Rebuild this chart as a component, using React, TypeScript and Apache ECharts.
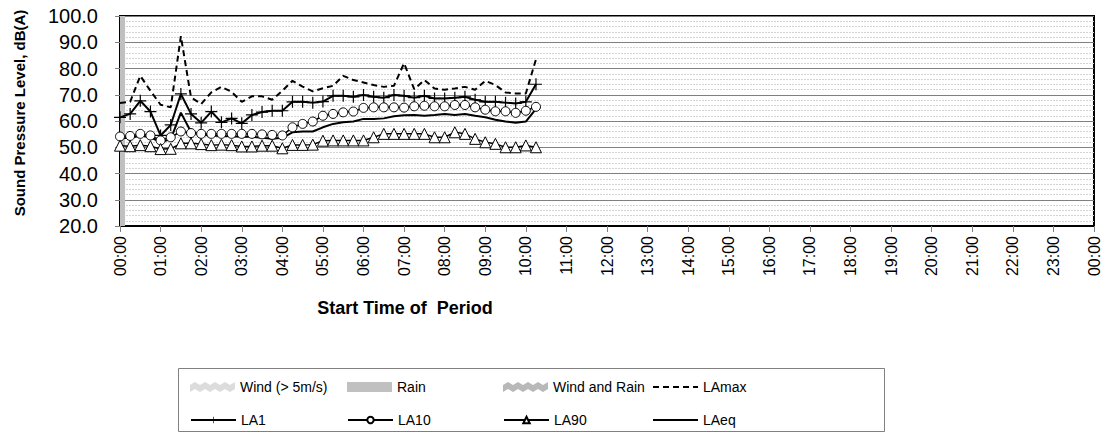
import React, { useEffect, useRef } from "react";
import * as echarts from "echarts";

// 15-minute periods across one day, 00:00 through the following 00:00
const periods: string[] = [];
for (let h = 0; h <= 24; h++) {
  for (let q = 0; q < 4; q++) {
    if (h === 24 && q > 0) break;
    const hh = String(h % 24).padStart(2, "0");
    const mm = String(q * 15).padStart(2, "0");
    periods.push(`${hh}:${mm}`);
  }
}

const laMax = [66.9, 67.3, 77.2, 71.5, 66.2, 65.2, 92.3, 69.0, 66.5, 70.9, 73.0, 71.1, 67.3, 69.4, 69.4, 68.1, 71.5, 75.3, 73.1, 71.3, 72.5, 73.4, 77.2, 75.6, 74.7, 73.7, 73.0, 73.4, 82.0, 72.1, 75.6, 72.4, 71.9, 72.4, 73.0, 71.9, 75.3, 73.7, 70.9, 70.5, 70.5, 83.5];
const la1 = [61.4, 62.7, 67.7, 63.6, 54.5, 58.5, 70.3, 62.7, 59.3, 63.6, 59.5, 61.0, 59.1, 62.3, 63.4, 63.9, 63.9, 67.3, 67.3, 67.0, 67.4, 69.6, 69.6, 69.2, 69.9, 69.2, 68.9, 69.9, 69.6, 68.9, 69.6, 68.6, 68.6, 68.9, 69.2, 68.1, 67.3, 67.3, 67.0, 66.7, 67.3, 74.0];
const la10 = [54.1, 54.3, 55.1, 54.5, 52.6, 53.8, 56.0, 55.4, 55.1, 55.1, 55.1, 55.1, 55.1, 55.1, 54.9, 54.7, 54.5, 57.6, 58.9, 59.8, 62.0, 62.7, 63.3, 63.6, 65.0, 65.2, 65.2, 65.2, 65.1, 65.6, 65.8, 65.6, 65.6, 66.1, 66.1, 65.2, 64.3, 63.7, 63.7, 63.1, 63.9, 65.4];
const la90 = [50.6, 50.4, 50.8, 50.4, 49.3, 49.4, 51.5, 51.5, 51.2, 50.8, 51.0, 50.8, 50.3, 50.3, 50.6, 50.6, 49.6, 50.9, 50.9, 51.0, 52.5, 52.6, 52.6, 52.6, 52.6, 53.8, 55.1, 55.1, 55.1, 55.1, 55.1, 53.8, 53.8, 55.7, 55.1, 53.2, 51.9, 51.3, 50.0, 50.0, 50.7, 50.0];
const laEq = [53.5, 53.5, 54.5, 53.8, 52.0, 53.0, 63.2, 55.8, 54.8, 54.5, 54.3, 54.2, 54.0, 54.0, 53.6, 53.2, 53.6, 55.7, 56.0, 56.0, 57.6, 58.9, 59.5, 59.8, 60.8, 60.8, 61.0, 61.8, 62.2, 62.3, 62.0, 62.3, 62.7, 62.3, 62.7, 62.0, 61.4, 60.5, 59.8, 59.3, 59.8, 64.6];

// weather flags: a band spans the full scale for each flagged period
const rain = [100];
const wind: number[] = [];
const windAndRain: number[] = [];

const FONT = "'Liberation Sans', Arial, sans-serif";
const ZIGZAG =
  "path://M0,3L5,0L10,3L15,0L20,3L25,0L30,3L35,0L40,3L45,0L45,7L40,10L35,7L30,10L25,7L20,10L15,7L10,10L5,7L0,10Z";
const PLUS =
  "path://M5.4,0h1.2v5.4h5.4v1.2h-5.4v5.4h-1.2v-5.4h-5.4v-1.2h5.4z";

function legendItem(left: number, top: number, itemHeight: number, item: any) {
  return {
    orient: "horizontal",
    left,
    top,
    itemWidth: 45,
    itemHeight,
    padding: 0,
    selectedMode: false,
    textStyle: { fontFamily: FONT, fontSize: 14, color: "#000", lineHeight: itemHeight },
    data: [item],
  };
}

// full-height band centred on a period, clipped to the plot area
function weatherBand(params: any, api: any) {
  const top = api.coord([api.value(0), 100]);
  const bottom = api.coord([api.value(0), 20]);
  const w = api.size([1, 0])[0];
  const shape = echarts.graphic.clipRectByRect(
    { x: top[0] - w / 2, y: top[1], width: w, height: bottom[1] - top[1] },
    {
      x: params.coordSys.x,
      y: params.coordSys.y,
      width: params.coordSys.width,
      height: params.coordSys.height,
    }
  );
  if (!shape) return null;
  return { type: "rect", shape, style: api.style() };
}

function bandData(flags: number[]) {
  return flags.map((v, i) => (v ? [i, v] : null)).filter((d) => d !== null);
}

export default function App() {
  const ref = useRef<HTMLDivElement>(null);

  useEffect(() => {
    if (!ref.current) return;
    const chart = echarts.init(ref.current, null, { renderer: "svg" });
    const lineBase = {
      type: "line",
      showSymbol: true,
      showAllSymbol: true,
      z: 3,
    };
    chart.setOption({
      animation: false,
      backgroundColor: "#fff",
      grid: {
        left: 120,
        right: 14,
        top: 16,
        bottom: 215,
        show: true,
        borderColor: "#000",
        borderWidth: 2,
        backgroundColor: "transparent",
      },
      legend: [
        legendItem(190, 380, 10, { name: "Wind (> 5m/s)", icon: ZIGZAG }),
        legendItem(347, 380, 10, { name: "Rain", icon: "rect" }),
        legendItem(503, 380, 10, { name: "Wind and Rain", icon: ZIGZAG }),
        legendItem(652, 380, 10, { name: "LAmax" }),
        legendItem(190, 413, 8, { name: "LA1" }),
        legendItem(347, 413, 8, { name: "LA10" }),
        legendItem(503, 413, 8, { name: "LA90" }),
        legendItem(652, 413, 8, { name: "LAeq" }),
      ],
      xAxis: {
        type: "category",
        data: periods,
        boundaryGap: false,
        axisLine: { lineStyle: { color: "#000", width: 2 } },
        axisTick: { show: true, interval: 3, length: 6, lineStyle: { color: "#808080" } },
        axisLabel: {
          interval: 3,
          rotate: 90,
          margin: 10,
          fontSize: 16,
          fontFamily: FONT,
          color: "#000",
        },
        splitLine: { show: false },
      },
      yAxis: {
        type: "value",
        min: 20,
        max: 100,
        interval: 10,
        axisLine: { show: true, lineStyle: { color: "#000", width: 2 } },
        axisTick: { show: true, length: 5, lineStyle: { color: "#808080" } },
        axisLabel: {
          formatter: (v: number) => v.toFixed(1),
          fontSize: 20,
          fontFamily: FONT,
          color: "#000",
          margin: 22,
        },
        splitLine: { show: true, lineStyle: { color: "#808080", width: 1 } },
        minorSplitLine: { show: true, lineStyle: { color: "#d4d4d4", width: 1, type: [2, 1] } },
        minorTick: { show: false, splitNumber: 5 },
      },
      series: [
        {
          name: "Wind (> 5m/s)",
          type: "custom",
          renderItem: weatherBand,
          data: bandData(wind),
          itemStyle: { color: "#dcdcdc" },
          z: 1,
        },
        {
          name: "Rain",
          type: "custom",
          renderItem: weatherBand,
          data: bandData(rain),
          itemStyle: { color: "#c0c0c0" },
          z: 1,
        },
        {
          name: "Wind and Rain",
          type: "custom",
          renderItem: weatherBand,
          data: bandData(windAndRain),
          itemStyle: { color: "#b8b8b8" },
          z: 1,
        },
        {
          ...lineBase,
          name: "LAmax",
          data: laMax,
          symbol: "circle",
          showSymbol: false,
          itemStyle: { color: "rgba(0,0,0,0)" },
          lineStyle: { color: "#000", width: 2, type: [6, 4] },
        },
        {
          ...lineBase,
          name: "LA1",
          data: la1,
          symbol: PLUS,
          symbolSize: 12,
          itemStyle: { color: "#000" },
          lineStyle: { color: "#000", width: 2 },
        },
        {
          ...lineBase,
          name: "LA10",
          data: la10,
          symbol: "circle",
          symbolSize: 9,
          itemStyle: { color: "#fff", borderColor: "#000", borderWidth: 1 },
          lineStyle: { color: "#000", width: 1.5 },
        },
        {
          ...lineBase,
          name: "LA90",
          data: la90,
          symbol: "triangle",
          symbolSize: [11, 11],
          itemStyle: { color: "#fff", borderColor: "#000", borderWidth: 1 },
          lineStyle: { color: "#000", width: 1.5 },
        },
        {
          ...lineBase,
          name: "LAeq",
          data: laEq,
          symbol: "circle",
          showSymbol: false,
          itemStyle: { color: "rgba(0,0,0,0)" },
          lineStyle: { color: "#000", width: 2 },
        },
      ],
      graphic: [
        {
          type: "rect",
          left: 176,
          top: 366,
          shape: { width: 706, height: 63 },
          style: { fill: "none", stroke: "#808080", lineWidth: 1 },
          z: -1,
        },
        {
          type: "text",
          x: 19,
          y: 113,
          rotation: Math.PI / 2,
          style: {
            text: "Sound Pressure Level, dB(A)",
            font: `bold 15px ${FONT}`,
            fill: "#000",
            textAlign: "center",
            textVerticalAlign: "middle",
          },
        },
        {
          type: "text",
          x: 405,
          y: 308,
          style: {
            text: "Start Time of  Period",
            font: `bold 18px ${FONT}`,
            fill: "#000",
            textAlign: "center",
            textVerticalAlign: "middle",
          },
        },
      ],
    });
    return () => chart.dispose();
  }, []);

  return (
    <div
      ref={ref}
      style={{ position: "fixed", left: 0, top: 0, width: 1108, height: 441 }}
    />
  );
}
